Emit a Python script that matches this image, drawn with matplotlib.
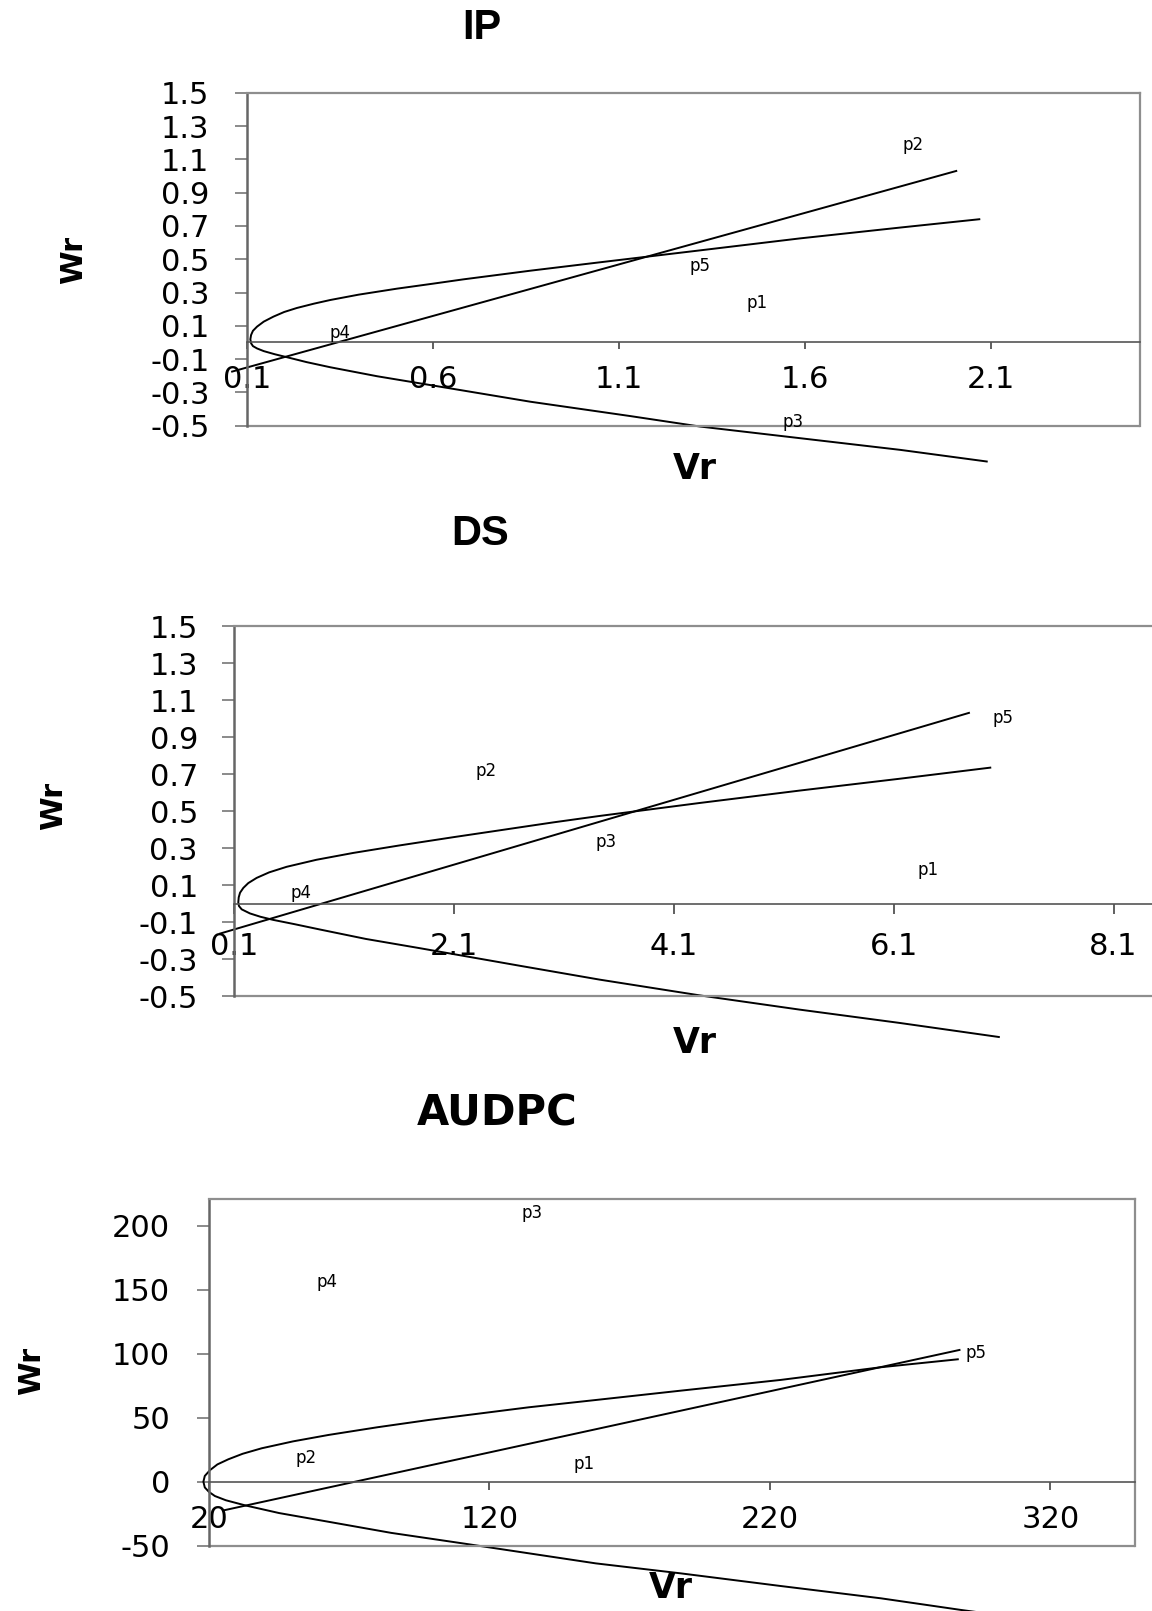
import matplotlib
matplotlib.use("Agg")
import matplotlib.pyplot as plt

plt.rcParams["axes.unicode_minus"] = False
plt.rcParams["font.family"] = ["DejaVu Sans"]

# ---- IP panel ----
# limiting parabola, read from the upper end round the vertex to the lower end
ip_curve_vr = [2.069, 1.856, 1.587, 1.318, 1.040, 0.862, 0.682, 0.600, 0.503, 0.400, 0.324,
               0.280, 0.234, 0.200, 0.171, 0.145, 0.127, 0.116, 0.111, 0.109, 0.111, 0.116,
               0.127, 0.145, 0.175, 0.208, 0.260, 0.324, 0.450, 0.593, 0.862, 1.130, 1.318,
               1.587, 1.856, 2.089]
ip_curve_wr = [0.740, 0.690, 0.625, 0.553, 0.479, 0.431, 0.379, 0.353, 0.323, 0.287, 0.255,
               0.233, 0.207, 0.183, 0.155, 0.125, 0.095, 0.070, 0.045, 0.019, -0.005, -0.022,
               -0.036, -0.052, -0.071, -0.089, -0.118, -0.149, -0.203, -0.256, -0.356, -0.442,
               -0.505, -0.575, -0.645, -0.715]
ip_line_vr = [0.06, 2.007]
ip_line_wr = [-0.175, 1.030]
ip_names = ["p1", "p2", "p3", "p4", "p5"]
ip_vr = [1.471, 1.892, 1.569, 0.349, 1.317]
ip_wr = [0.239, 1.186, -0.480, 0.055, 0.461]
ip_xticks = [0.1, 0.6, 1.1, 1.6, 2.1]
ip_yticks = [1.5, 1.3, 1.1, 0.9, 0.7, 0.5, 0.3, 0.1, -0.1, -0.3, -0.5]

# ---- DS panel ----
ds_curve_vr = [6.979, 6.155, 5.245, 4.336, 3.427, 3.003, 2.094, 1.600, 1.185, 0.850, 0.579,
               0.420, 0.306, 0.230, 0.185, 0.155, 0.143, 0.139, 0.145, 0.170, 0.245, 0.340,
               0.457, 0.650, 0.882, 1.300, 1.791, 2.700, 3.427, 4.336, 5.245, 6.155, 7.057]
ds_curve_wr = [0.736, 0.676, 0.612, 0.545, 0.475, 0.440, 0.360, 0.315, 0.275, 0.238, 0.200,
               0.170, 0.140, 0.112, 0.086, 0.060, 0.035, 0.008, -0.012, -0.030, -0.052, -0.070,
               -0.087, -0.110, -0.139, -0.190, -0.240, -0.335, -0.410, -0.495, -0.572, -0.644,
               -0.720]
ds_line_vr = [-0.027, 6.785]
ds_line_wr = [-0.161, 1.032]
ds_names = ["p1", "p2", "p3", "p4", "p5"]
ds_vr = [6.412, 2.397, 3.480, 0.709, 7.094]
ds_wr = [0.185, 0.716, 0.332, 0.059, 1.005]
ds_xticks = [0.1, 2.1, 4.1, 6.1, 8.1]
ds_yticks = [1.5, 1.3, 1.1, 0.9, 0.7, 0.5, 0.3, 0.1, -0.1, -0.3, -0.5]

# ---- AUDPC panel ----
au_curve_vr = [287.0, 259.6, 223.9, 188.2, 157.9, 134.0, 98.3, 80.0, 62.6, 50.0, 38.8, 32.0,
               26.9, 23.0, 20.4, 18.5, 18.0, 18.5, 20.0, 22.1, 26.0, 32.9, 45.0, 62.6, 85.0,
               110.2, 157.9, 188.2, 223.9, 259.6, 288.2, 296.0]
au_curve_wr = [95.6, 89.4, 79.5, 71.1, 63.8, 58.1, 48.2, 42.5, 36.5, 31.5, 26.1, 21.8,
               17.5, 13.5, 9.1, 4.5, 0.0, -4.5, -8.0, -11.2, -14.5, -18.5, -24.5, -31.3, -40.0,
               -48.1, -63.8, -71.6, -81.5, -91.1, -100.2, -102.5]
au_line_vr = [25.0, 287.6]
au_line_wr = [-22.5, 102.9]
au_names = ["p1", "p2", "p3", "p4", "p5"]
au_vr = [153.8, 54.6, 135.1, 62.1, 293.4]
au_wr = [13.6, 18.3, 210.0, 155.6, 100.3]
au_xticks = [20, 120, 220, 320]
au_yticks = [200, 150, 100, 50, 0, -50]

W, H = 1152, 1611
fig = plt.figure(figsize=(W / 100, H / 100), dpi=100)


def box(left, top, right, bottom):
    return [left / W, 1 - bottom / H, (right - left) / W, (bottom - top) / H]


def fig_text(x, y, s, **kw):
    fig.text(x / W, 1 - y / H, s, ha="center", va="center", **kw)


def panel(rect, cvr, cwr, lvr, lwr, names, pvr, pwr, xticks, yticks, xlim, ylim,
          xfmt, yfmt, xpad, xlen, ypad, open_right=False):
    ax = fig.add_axes(rect)
    ax.set_xlim(*xlim)
    ax.set_ylim(*ylim)
    ax.plot(cvr, cwr, color="black", lw=1.4, clip_on=False, solid_joinstyle="round")
    ax.plot(lvr, lwr, color="black", lw=1.4, clip_on=False)
    for name, x, y in zip(names, pvr, pwr):
        ax.text(x, y, name, fontsize=12, ha="center", va="center")

    frame = "#8e8e8e"
    ax.spines["top"].set_color(frame)
    ax.spines["top"].set_linewidth(1.6)
    ax.spines["right"].set_color(frame)
    ax.spines["right"].set_linewidth(1.6)
    ax.spines["right"].set_visible(not open_right)
    ax.spines["left"].set_color("#666666")
    ax.spines["left"].set_linewidth(1.8)
    ax.spines["bottom"].set_position(("data", 0))
    ax.spines["bottom"].set_color("#555555")
    ax.spines["bottom"].set_linewidth(1.2)
    ax.plot([0, 1], [0, 0], transform=ax.transAxes, color=frame, lw=1.6,
            clip_on=False, solid_capstyle="butt")

    ax.set_xticks(xticks)
    ax.set_xticklabels([xfmt % v for v in xticks])
    ax.set_yticks(yticks)
    ax.set_yticklabels([yfmt % v for v in yticks])
    ax.tick_params(axis="x", direction="out", length=xlen, width=1.2, color="#444444",
                   pad=xpad, labelsize=22)
    ax.tick_params(axis="y", direction="out", length=9, width=1.2, color="#777777",
                   pad=ypad, labelsize=22)
    return ax


panel(box(247, 92.7, 1139.6, 425.7), ip_curve_vr, ip_curve_wr, ip_line_vr, ip_line_wr,
      ip_names, ip_vr, ip_wr, ip_xticks, ip_yticks, (0.1, 2.5), (-0.5, 1.5),
      "%.1f", "%.1f", 11, 5, 18)
panel(box(234, 626.3, 1152, 996.3), ds_curve_vr, ds_curve_wr, ds_line_vr, ds_line_wr,
      ds_names, ds_vr, ds_wr, ds_xticks, ds_yticks, (0.1, 8.45), (-0.5, 1.5),
      "%.1f", "%.1f", 13, 7, 17, open_right=True)
panel(box(209, 1199, 1134.5, 1545.7), au_curve_vr, au_curve_wr, au_line_vr, au_line_wr,
      au_names, au_vr, au_wr, au_xticks, au_yticks, (20, 350), (-50, 220.8),
      "%d", "%d", 11, 6, 19)

title_font = ["Liberation Sans Narrow", "Liberation Sans", "DejaVu Sans"]
fig_text(481.5, 28, "IP", fontsize=30, fontweight="bold", family=title_font)
fig_text(480, 534, "DS", fontsize=30, fontweight="bold", family=title_font)
fig_text(497, 1114, "AUDPC", fontsize=30, fontweight="bold")

for x, y in [(694.7, 468.6), (694.7, 1043), (670.5, 1588.5)]:
    fig_text(x, y, "Vr", fontsize=25, fontweight="bold")
for x, y in [(74, 260), (54, 806), (32, 1371)]:
    fig_text(x, y, "Wr", fontsize=22, fontweight="bold", rotation=90)

fig.savefig("out.png", dpi=100)
